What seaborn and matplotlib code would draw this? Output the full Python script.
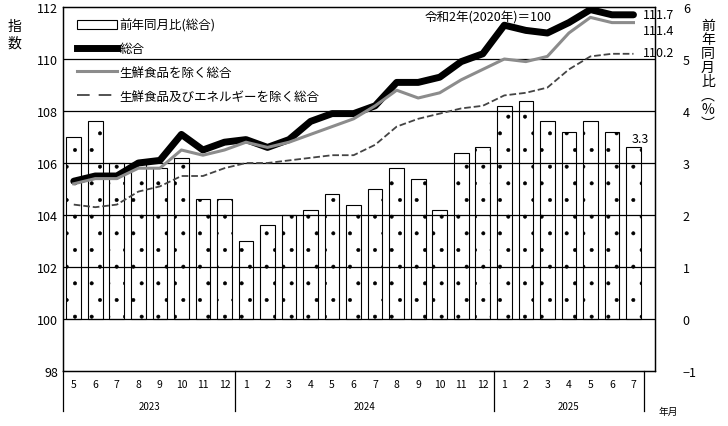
import matplotlib
matplotlib.use("Agg")
import matplotlib.pyplot as plt
import seaborn as sns
import pandas as pd
import numpy as np
from matplotlib.lines import Line2D
from matplotlib.patches import Patch

plt.rcParams["font.family"] = ["Noto Sans CJK JP", "DejaVu Sans"]
plt.rcParams["hatch.linewidth"] = 0.4

months = ["5","6","7","8","9","10","11","12","1","2","3","4","5","6","7","8","9","10","11","12","1","2","3","4","5","6","7"]
years = ["2023", "2024", "2025"]
year_spans = [(0, 7), (8, 19), (20, 26)]
yoy = [3.5,3.8,3.0,3.0,2.9,3.1,2.3,2.3,1.5,1.8,2.0,2.1,2.4,2.2,2.5,2.9,2.7,2.1,3.2,3.3,4.1,4.2,3.8,3.6,3.8,3.6,3.3]
total = [105.3,105.5,105.5,106.0,106.1,107.1,106.5,106.8,106.9,106.6,106.9,107.6,107.9,107.9,108.2,109.1,109.1,109.3,109.9,110.2,111.3,111.1,111.0,111.4,111.9,111.7,111.7]
core = [105.2,105.4,105.4,105.8,105.8,106.5,106.3,106.5,106.8,106.6,106.8,107.1,107.4,107.7,108.2,108.8,108.5,108.7,109.2,109.6,110.0,109.9,110.1,111.0,111.6,111.4,111.4]
corecore = [104.4,104.3,104.4,104.9,105.1,105.5,105.5,105.8,106.0,106.0,106.1,106.2,106.3,106.3,106.7,107.4,107.7,107.9,108.1,108.2,108.6,108.7,108.9,109.6,110.1,110.2,110.2]

n = len(months)
df = pd.DataFrame({"i": np.arange(n), "yoy": yoy, "total": total, "core": core, "cc": corecore})

fig = plt.figure(figsize=(7.28, 4.27), dpi=100)
ax2 = fig.add_axes([63/728, 55/427, 592/728, 364/427])
ax = ax2.twinx()
ax.yaxis.tick_left(); ax.yaxis.set_label_position("left")
ax2.yaxis.tick_right(); ax2.yaxis.set_label_position("right")

sns.barplot(data=df, x="i", y="yoy", ax=ax2, color="white", edgecolor="black",
            linewidth=0.8, width=0.68, native_scale=True)
for p in ax2.patches:
    p.set_hatch("."); p.set_edgecolor("black")
ax2.set_ylim(-1, 6)
ax2.set_yticks(range(-1, 7))
ax2.set_xlim(-0.5, n)
ax2.set_ylabel(""); ax2.set_xlabel("")
ax2.tick_params(axis="y", length=0, labelsize=9, pad=20)

ax.set_ylim(98, 112)
ax.set_yticks(range(98, 113, 2))
for yv in range(100, 112, 2):
    ax.axhline(yv, color="black", lw=0.9, zorder=0)
sns.lineplot(data=df, x="i", y="total", ax=ax, color="black", lw=5, solid_capstyle="round")
sns.lineplot(data=df, x="i", y="core", ax=ax, color="#8c8c8c", lw=2.2)
sns.lineplot(data=df, x="i", y="cc", ax=ax, color="#444444", lw=1.3, dashes=(7, 5), linestyle="--")
ax.set_ylabel(""); ax.set_xlabel("")
ax.tick_params(axis="y", length=0, labelsize=9)
ax.set_xlim(-0.5, n)

ax2.set_xticks([])
ax.set_xticks([])
for sp in ["top", "bottom", "left", "right"]:
    ax.spines[sp].set_linewidth(0.9)
    ax2.spines[sp].set_linewidth(0.9)

ax.text(n - 0.55, total[-1], "111.7", fontsize=9, va="center", ha="left")
ax.text(n - 0.55, core[-1] - 0.3, "111.4", fontsize=9, va="center", ha="left")
ax.text(n - 0.55, corecore[-1] + 0.05, "110.2", fontsize=9, va="center", ha="left")
ax2.text(n - 1.1, yoy[-1] + 0.05, "3.3", fontsize=9, va="bottom", ha="left")
ax.text(16.3, 111.6, "令和2年(2020年)＝100", fontsize=9, va="center")

handles = [Patch(facecolor="white", edgecolor="black", hatch=".", lw=0.8),
           Line2D([], [], color="black", lw=5),
           Line2D([], [], color="#8c8c8c", lw=2.2),
           Line2D([], [], color="#444444", lw=1.3, dashes=(7, 5))]
labels = ["前年同月比(総合)", "総合", "生鮮食品を除く総合", "生鮮食品及びエネルギーを除く総合"]
ax.legend(handles, labels, loc="upper left", bbox_to_anchor=(0.005, 1.0), frameon=False,
          fontsize=9, handlelength=3.2, handletextpad=0.2, labelspacing=0.85)

trans = ax.get_xaxis_transform()
for i, m in enumerate(months):
    ax.text(i, -0.035, m, transform=trans, ha="center", va="center", fontsize=7.5)
for (a, b), y in zip(year_spans, years):
    ax.text((a + b) / 2, -0.095, y, transform=trans, ha="center", va="center", fontsize=7)
for xv in [-0.5, 7.5, 19.5, 26.5]:
    ax.plot([xv, xv], [0, -0.11], transform=trans, color="black", lw=0.9, clip_on=False)
ax.text(n + 0.6, -0.11, "年月", transform=trans, ha="center", va="center", fontsize=7)

fig.text(8/728, 1 - 35/427, "指\n数", fontsize=10, va="center", ha="left", linespacing=1.2)
fig.text(708/728, 1 - 75/427, "前\n年\n同\n月\n比\n︵\n%\n︶", fontsize=10, va="center", ha="center", linespacing=1.0)

fig.savefig("out.png", dpi=100)
